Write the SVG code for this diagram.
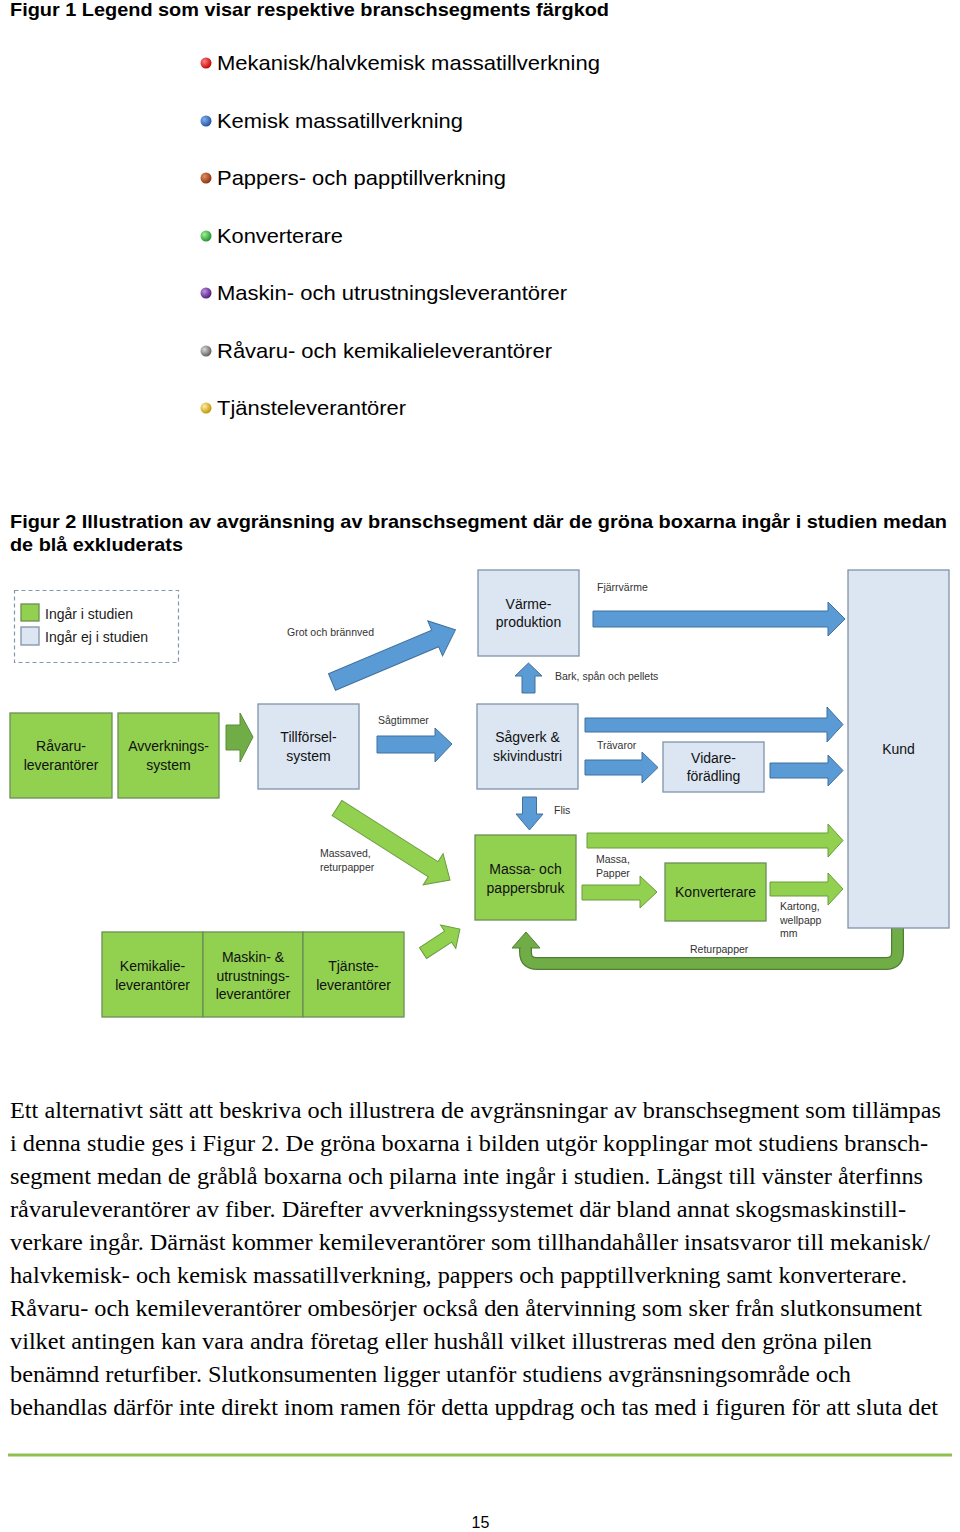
<svg xmlns="http://www.w3.org/2000/svg" width="960" height="1532" viewBox="0 0 960 1532">
<defs>
<style>
.cap{font-family:"Liberation Sans",Arial,sans-serif;font-weight:bold;font-size:18.5px;fill:#000}
.leg{font-family:"Liberation Sans",Arial,sans-serif;font-size:21px;fill:#000}
.body{font-family:"Liberation Serif","Times New Roman",serif;font-size:22.5px;fill:#000}
.lbl{font-family:"Liberation Sans",Arial,sans-serif;font-size:14px;fill:#111;text-anchor:middle}
.sm{font-family:"Liberation Sans",Arial,sans-serif;font-size:10.5px;fill:#333}
.gbox{fill:#92d050;stroke:#6b8f55;stroke-width:1.3}
.bbox{fill:#dce6f2;stroke:#7f93ab;stroke-width:1.3}
.barr{fill:#5b9bd5;stroke:#41719c;stroke-width:1}
.garr{fill:#92d050;stroke:#6a9c3c;stroke-width:1}
.darr{fill:#70ad47;stroke:#5a8c39;stroke-width:1}
</style>
<radialGradient id="gRed" cx="35%" cy="35%" r="70%"><stop offset="0" stop-color="#ff8080"/><stop offset="1" stop-color="#c00000"/></radialGradient>
<radialGradient id="gBlue" cx="35%" cy="35%" r="70%"><stop offset="0" stop-color="#80b0f0"/><stop offset="1" stop-color="#1f4f9a"/></radialGradient>
<radialGradient id="gBrown" cx="35%" cy="35%" r="70%"><stop offset="0" stop-color="#e09060"/><stop offset="1" stop-color="#8b2d10"/></radialGradient>
<radialGradient id="gGreen" cx="35%" cy="35%" r="70%"><stop offset="0" stop-color="#a0f090"/><stop offset="1" stop-color="#1f8f2f"/></radialGradient>
<radialGradient id="gPurple" cx="35%" cy="35%" r="70%"><stop offset="0" stop-color="#c090e0"/><stop offset="1" stop-color="#4a1a7a"/></radialGradient>
<radialGradient id="gGray" cx="35%" cy="35%" r="70%"><stop offset="0" stop-color="#d8d8d8"/><stop offset="1" stop-color="#5a5a5a"/></radialGradient>
<radialGradient id="gYellow" cx="35%" cy="35%" r="70%"><stop offset="0" stop-color="#fff0a0"/><stop offset="1" stop-color="#c09000"/></radialGradient>
</defs>
<rect width="960" height="1532" fill="#fff"/>

<text class="cap" x="10" y="16" textLength="599" lengthAdjust="spacingAndGlyphs">Figur 1 Legend som visar respektive branschsegments färgkod</text>

<g id="legend1">
<circle cx="206" cy="63" r="5.5" fill="url(#gRed)"/>
<text class="leg" x="217" y="70" textLength="383" lengthAdjust="spacingAndGlyphs">Mekanisk/halvkemisk massatillverkning</text>
<circle cx="206" cy="121" r="5.5" fill="url(#gBlue)"/>
<text class="leg" x="217" y="128" textLength="246" lengthAdjust="spacingAndGlyphs">Kemisk massatillverkning</text>
<circle cx="206" cy="178" r="5.5" fill="url(#gBrown)"/>
<text class="leg" x="217" y="185" textLength="289" lengthAdjust="spacingAndGlyphs">Pappers- och papptillverkning</text>
<circle cx="206" cy="236" r="5.5" fill="url(#gGreen)"/>
<text class="leg" x="217" y="243" textLength="126" lengthAdjust="spacingAndGlyphs">Konverterare</text>
<circle cx="206" cy="293" r="5.5" fill="url(#gPurple)"/>
<text class="leg" x="217" y="300" textLength="350" lengthAdjust="spacingAndGlyphs">Maskin- och utrustningsleverantörer</text>
<circle cx="206" cy="351" r="5.5" fill="url(#gGray)"/>
<text class="leg" x="217" y="358" textLength="335" lengthAdjust="spacingAndGlyphs">Råvaru- och kemikalieleverantörer</text>
<circle cx="206" cy="408" r="5.5" fill="url(#gYellow)"/>
<text class="leg" x="217" y="415" textLength="189" lengthAdjust="spacingAndGlyphs">Tjänsteleverantörer</text>
</g>

<text class="cap" x="10" y="528" textLength="937" lengthAdjust="spacingAndGlyphs">Figur 2 Illustration av avgränsning av branschsegment där de gröna boxarna ingår i studien medan</text>
<text class="cap" x="10" y="551" textLength="173" lengthAdjust="spacingAndGlyphs">de blå exkluderats</text>

<g id="legend2">
<rect x="14.5" y="590.5" width="164" height="72" fill="#fff" stroke="#8497b0" stroke-width="1.2" stroke-dasharray="4,3"/>
<rect x="21" y="604" width="18" height="17" class="gbox"/>
<rect x="21" y="627" width="18" height="18" class="bbox"/>
<text x="45" y="619" font-family="Liberation Sans, Arial, sans-serif" font-size="14" fill="#1a1a1a" textLength="88" lengthAdjust="spacingAndGlyphs">Ingår i studien</text>
<text x="45" y="642" font-family="Liberation Sans, Arial, sans-serif" font-size="14" fill="#1a1a1a" textLength="103" lengthAdjust="spacingAndGlyphs">Ingår ej i studien</text>
</g>

<g id="connectors">
<polygon class="barr" transform="translate(332,682) rotate(-22.9)" points="0,-9 112,-9 112,-19 134,0 112,19 112,9 0,9"/>
<polygon class="barr" points="593,611 828,611 828,602 845,619 828,636 828,627 593,627"/>
<polygon class="barr" points="522,693 522,676 515,676 528.5,663 542,676 535,676 535,693"/>
<polygon class="darr" points="226,725 240,725 240,713 253,737 240,762 240,750 226,750"/>
<polygon class="barr" points="377,736 435,736 435,728 452,744 435,762 435,753 377,753"/>
<polygon class="barr" points="585,718 827,718 827,707 843,724.5 827,742 827,732 585,732"/>
<polygon class="barr" points="585,760 642,760 642,752 658,767.5 642,783 642,775 585,775"/>
<polygon class="barr" points="770,763 828,763 828,755 843,770.5 828,786 828,778 770,778"/>
<polygon class="barr" points="522.5,797 536.5,797 536.5,814 543,814 529.5,830 516,814 522.5,814"/>
<polygon class="garr" transform="translate(337,808) rotate(32.5)" points="0,-9 114,-9 114,-18.5 134,0 114,18.5 114,9 0,9"/>
<polygon class="garr" points="587,833 828,833 828,824 843,840.5 828,857 828,848 587,848"/>
<polygon class="garr" points="582,885 640,885 640,876 657,892 640,908 640,900 582,900"/>
<polygon class="garr" points="770,882 828,882 828,873 843,889 828,905 828,896 770,896"/>
<polygon class="garr" transform="translate(423,953) rotate(-33)" points="0,-6.5 30,-6.5 30,-14 44,0 30,14 30,6.5 0,6.5"/>
<path d="M897.5,928 V952 Q897.5,963.5 886,963.5 H537 Q525.5,963.5 525.5,952 V947" fill="none" stroke="#507e32" stroke-width="13"/>
<path d="M897.5,927 V952 Q897.5,963.5 886,963.5 H537 Q525.5,963.5 525.5,952 V946" fill="none" stroke="#70ad47" stroke-width="10.5"/>
<polygon points="512,948 526,932 540,948" fill="#70ad47" stroke="#507e32" stroke-width="1"/>
<rect x="520.8" y="946" width="9.4" height="4" fill="#70ad47"/>

<text class="sm" x="287" y="635.5">Grot och brännved</text>
<text class="sm" x="597" y="590.5">Fjärrvärme</text>
<text class="sm" x="555" y="679.5">Bark, spån och pellets</text>
<text class="sm" x="378" y="723.5">Sågtimmer</text>
<text class="sm" x="597" y="748.5">Trävaror</text>
<text class="sm" x="554" y="813.5">Flis</text>
<text class="sm" x="320" y="856.5">Massaved,</text>
<text class="sm" x="320" y="870.5">returpapper</text>
<text class="sm" x="596" y="862.5">Massa,</text>
<text class="sm" x="596" y="876.5">Papper</text>
<text class="sm" x="780" y="909.5">Kartong,</text>
<text class="sm" x="780" y="923.5">wellpapp</text>
<text class="sm" x="780" y="937">mm</text>
<text class="sm" x="690" y="952.5">Returpapper</text>
</g>

<g id="varme">
<rect class="bbox" x="478" y="570" width="101" height="86"/>
<text class="lbl" x="528.5" y="609">Värme-</text>
<text class="lbl" x="528.5" y="627">produktion</text>
</g>
<g id="kund">
<rect class="bbox" x="848" y="570" width="101" height="358"/>
<text class="lbl" x="898.5" y="754">Kund</text>
</g>
<g id="ravaru">
<rect class="gbox" x="10" y="713" width="102" height="85"/>
<text class="lbl" x="61" y="751">Råvaru-</text>
<text class="lbl" x="61" y="770">leverantörer</text>
</g>
<g id="avverkning">
<rect class="gbox" x="118" y="713" width="101" height="85"/>
<text class="lbl" x="168.5" y="751">Avverknings-</text>
<text class="lbl" x="168.5" y="770">system</text>
</g>
<g id="tillforsel">
<rect class="bbox" x="258" y="704" width="101" height="85"/>
<text class="lbl" x="308.5" y="742">Tillförsel-</text>
<text class="lbl" x="308.5" y="761">system</text>
</g>
<g id="sagverk">
<rect class="bbox" x="477" y="704" width="101" height="85"/>
<text class="lbl" x="527.5" y="742">Sågverk &amp;</text>
<text class="lbl" x="527.5" y="761">skivindustri</text>
</g>
<g id="vidare">
<rect class="bbox" x="663" y="742" width="101" height="50"/>
<text class="lbl" x="713.5" y="763">Vidare-</text>
<text class="lbl" x="713.5" y="781">förädling</text>
</g>
<g id="massa">
<rect class="gbox" x="475" y="835" width="101" height="85"/>
<text class="lbl" x="525.5" y="874">Massa- och</text>
<text class="lbl" x="525.5" y="893">pappersbruk</text>
</g>
<g id="konverterare">
<rect class="gbox" x="665" y="863" width="101" height="58"/>
<text class="lbl" x="715.5" y="897">Konverterare</text>
</g>
<g id="kemikalie">
<rect class="gbox" x="102" y="932" width="101" height="85"/>
<text class="lbl" x="152.5" y="971">Kemikalie-</text>
<text class="lbl" x="152.5" y="990">leverantörer</text>
</g>
<g id="maskin">
<rect class="gbox" x="203" y="932" width="100" height="85"/>
<text class="lbl" x="253" y="962">Maskin- &amp;</text>
<text class="lbl" x="253" y="980.5">utrustnings-</text>
<text class="lbl" x="253" y="999">leverantörer</text>
</g>
<g id="tjanste">
<rect class="gbox" x="303" y="932" width="101" height="85"/>
<text class="lbl" x="353.5" y="971">Tjänste-</text>
<text class="lbl" x="353.5" y="990">leverantörer</text>
</g>

<g id="bodytext">
<text class="body" x="10" y="1118" textLength="931" lengthAdjust="spacingAndGlyphs">Ett alternativt sätt att beskriva och illustrera de avgränsningar av branschsegment som tillämpas</text>
<text class="body" x="10" y="1151" textLength="918" lengthAdjust="spacingAndGlyphs">i denna studie ges i Figur 2. De gröna boxarna i bilden utgör kopplingar mot studiens bransch-</text>
<text class="body" x="10" y="1184" textLength="913" lengthAdjust="spacingAndGlyphs">segment medan de gråblå boxarna och pilarna inte ingår i studien. Längst till vänster återfinns</text>
<text class="body" x="10" y="1217" textLength="896" lengthAdjust="spacingAndGlyphs">råvaruleverantörer av fiber. Därefter avverkningssystemet där bland annat skogsmaskinstill-</text>
<text class="body" x="10" y="1250" textLength="920" lengthAdjust="spacingAndGlyphs">verkare ingår. Därnäst kommer kemileverantörer som tillhandahåller insatsvaror till mekanisk/</text>
<text class="body" x="10" y="1283" textLength="897" lengthAdjust="spacingAndGlyphs">halvkemisk- och kemisk massatillverkning, pappers och papptillverkning samt konverterare.</text>
<text class="body" x="10" y="1316" textLength="912" lengthAdjust="spacingAndGlyphs">Råvaru- och kemileverantörer ombesörjer också den återvinning som sker från slutkonsument</text>
<text class="body" x="10" y="1349" textLength="862" lengthAdjust="spacingAndGlyphs">vilket antingen kan vara andra företag eller hushåll vilket illustreras med den gröna pilen</text>
<text class="body" x="10" y="1382" textLength="841" lengthAdjust="spacingAndGlyphs">benämnd returfiber. Slutkonsumenten ligger utanför studiens avgränsningsområde och</text>
<text class="body" x="10" y="1415" textLength="928" lengthAdjust="spacingAndGlyphs">behandlas därför inte direkt inom ramen för detta uppdrag och tas med i figuren för att sluta det</text>
</g>

<line x1="8" y1="1455" x2="952" y2="1455" stroke="#92c050" stroke-width="3"/>
<text x="480.5" y="1528" font-family="Liberation Sans, Arial, sans-serif" font-size="16" text-anchor="middle" fill="#000">15</text>
</svg>
